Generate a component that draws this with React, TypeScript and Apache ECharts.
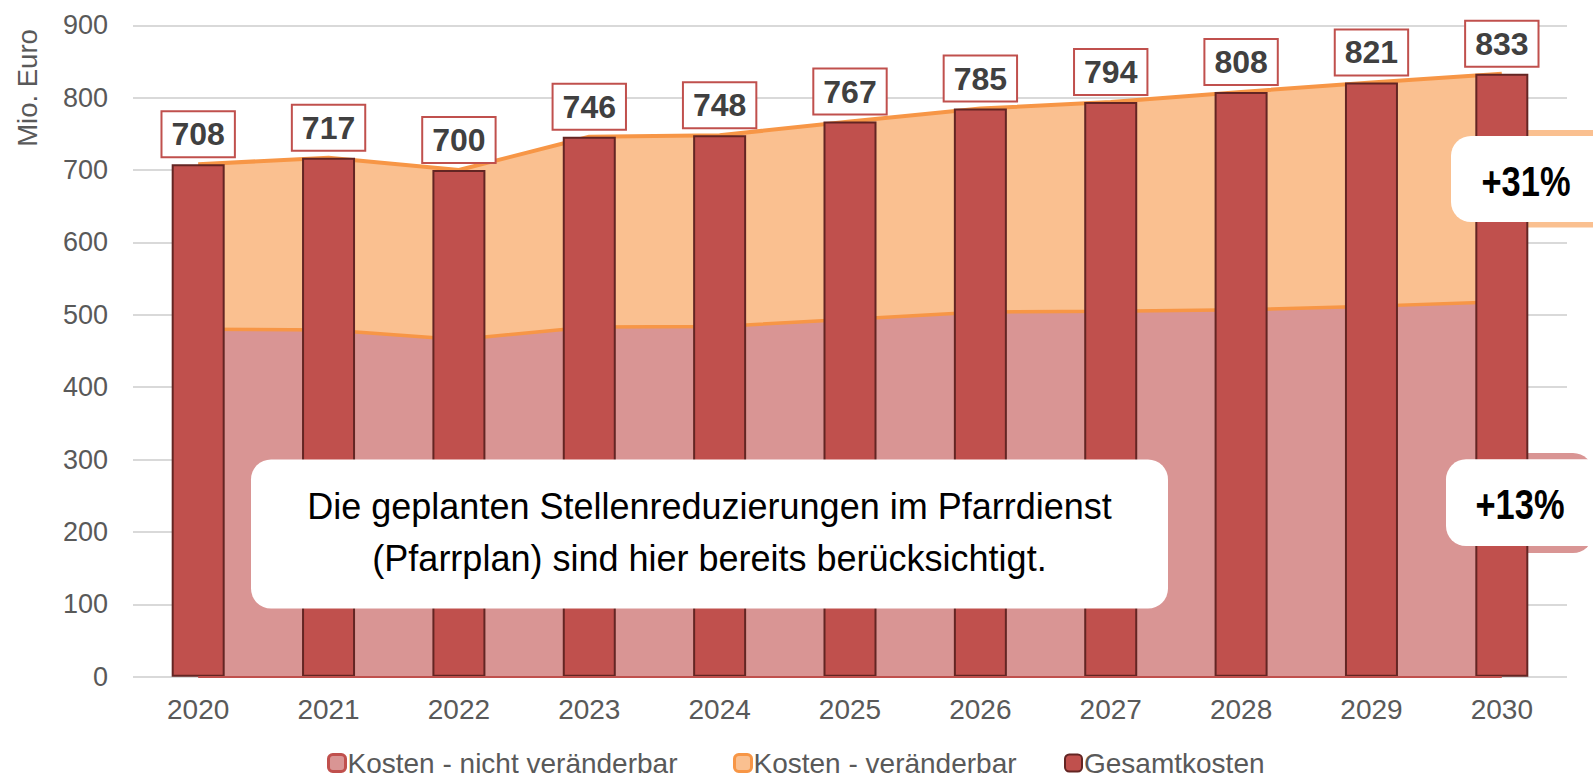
import React, { useEffect, useRef } from "react";
import * as echarts from "echarts";

const years = ["2020", "2021", "2022", "2023", "2024", "2025", "2026", "2027", "2028", "2029", "2030"];
const gesamtkosten = [708, 717, 700, 746, 748, 767, 785, 794, 808, 821, 833];
const nichtVeraenderbar = [480, 479, 466, 483, 484, 494, 504, 505, 507, 512, 518];
const veraenderbar = [228, 238, 234, 263, 264, 273, 281, 289, 301, 309, 315];
const seriesNames = ["Kosten - nicht veränderbar", "Kosten - veränderbar", "Gesamtkosten"];
const yMin = 0;
const yMax = 900;
const yStep = 100;
const axisTitle = "Mio. Euro";
const calloutText = "Die geplanten Stellenreduzierungen im Pfarrdienst\n(Pfarrplan) sind hier bereits berücksichtigt.";
const pctVeraenderbar = "+31%";
const pctNichtVeraenderbar = "+13%";

const FONT = "'Liberation Sans', Arial, Helvetica, sans-serif";

const legendStyles = [
  { color: "#D99594", borderColor: "#C0504D", borderWidth: 3 },
  { color: "#FAC090", borderColor: "#F79646", borderWidth: 3 },
  { color: "#C0504D", borderColor: "#632523", borderWidth: 2 },
];
const legendLefts = [327, 733, 1064];

export default function App() {
  const ref = useRef<HTMLDivElement>(null);

  useEffect(() => {
    if (!ref.current) return;
    const chart = echarts.init(ref.current, undefined, { renderer: "svg" });
    chart.setOption({
      animation: false,
      textStyle: { fontFamily: FONT },
      grid: { left: 133, right: 26, top: 25.3, bottom: 105.3, containLabel: false },
      legend: seriesNames.map((name, i) => ({
        top: 749,
        left: legendLefts[i],
        icon: "roundRect",
        itemWidth: 17,
        itemHeight: 17,
        padding: 0,
        textStyle: { fontSize: 28, lineHeight: 26, color: "#595959", fontFamily: FONT, padding: [0, 0, 0, -3] },
        data: [{ name, itemStyle: legendStyles[i] }],
      })),
      xAxis: {
        type: "category",
        data: years,
        boundaryGap: true,
        axisLine: { show: false },
        axisTick: { show: false },
        axisLabel: { color: "#595959", fontSize: 28, margin: 19, fontFamily: FONT },
      },
      yAxis: {
        type: "value",
        min: yMin,
        max: yMax,
        interval: yStep,
        axisLine: { show: false },
        axisTick: { show: false },
        axisLabel: { color: "#595959", fontSize: 27, margin: 25, fontFamily: FONT },
        splitLine: { lineStyle: { color: "#D9D9D9", width: 2 } },
      },
      series: [
        {
          name: seriesNames[0],
          type: "line",
          stack: "kosten",
          data: nichtVeraenderbar,
          symbol: "none",
          itemStyle: { color: "#D99594" },
          lineStyle: { color: "#F79646", width: 3.5 },
          areaStyle: { color: "#D99594", opacity: 1 },
          z: 2,
          markLine: {
            silent: true,
            symbol: "none",
            label: { show: false },
            lineStyle: { color: "#C0504D", width: 2, type: "solid" },
            data: [[{ coord: [years[0], yMin] }, { coord: [years[years.length - 1], yMin] }]],
          },
        },
        {
          name: seriesNames[1],
          type: "line",
          stack: "kosten",
          data: veraenderbar,
          symbol: "none",
          itemStyle: { color: "#FAC090" },
          lineStyle: { color: "#F79646", width: 4 },
          areaStyle: { color: "#FAC090", opacity: 1 },
          z: 2,
        },
        {
          name: seriesNames[2],
          type: "bar",
          data: gesamtkosten,
          barWidth: 53,
          itemStyle: { color: "#C0504D", borderColor: "#632523", borderWidth: 2 },
          z: 3,
          label: {
            show: true,
            position: "top",
            distance: 8,
            color: "#404040",
            fontSize: 32,
            fontWeight: "bold",
            fontFamily: FONT,
            lineHeight: 32,
            backgroundColor: "#FFFFFF",
            borderColor: "#C0504D",
            borderWidth: 2,
            padding: [6, 9, 6, 9],
          },
        },
      ],
      graphic: [
        {
          type: "text",
          x: 27,
          y: 88,
          rotation: Math.PI / 2,
          z: 5,
          style: { text: axisTitle, align: "center", verticalAlign: "middle", fontSize: 27.5, fontFamily: FONT, fill: "#595959" },
        },
        {
          type: "rect",
          z: 1,
          shape: { x: 1445, y: 130, width: 170, height: 97.5, r: 20 },
          style: { fill: "#FAC090" },
        },
        {
          type: "rect",
          z: 10,
          shape: { x: 1451, y: 136, width: 170, height: 86, r: 20 },
          style: { fill: "#FFFFFF" },
        },
        {
          type: "text",
          x: 1526,
          y: 181,
          scaleX: 0.82,
          z: 11,
          style: { text: pctVeraenderbar, align: "center", verticalAlign: "middle", fontSize: 42, fontWeight: "bold", fontFamily: FONT, fill: "#000000" },
        },
        {
          type: "rect",
          z: 1,
          shape: { x: 1440, y: 453, width: 153, height: 100, r: 20 },
          style: { fill: "#D99594" },
        },
        {
          type: "rect",
          z: 10,
          shape: { x: 1446, y: 459.3, width: 170, height: 86.7, r: 20 },
          style: { fill: "#FFFFFF" },
        },
        {
          type: "text",
          x: 1520,
          y: 504,
          scaleX: 0.82,
          z: 11,
          style: { text: pctNichtVeraenderbar, align: "center", verticalAlign: "middle", fontSize: 42, fontWeight: "bold", fontFamily: FONT, fill: "#000000" },
        },
        {
          type: "rect",
          z: 10,
          shape: { x: 251, y: 459.5, width: 917, height: 149, r: 20 },
          style: { fill: "#FFFFFF" },
        },
        {
          type: "text",
          x: 709.5,
          y: 532,
          z: 11,
          style: { text: calloutText, align: "center", verticalAlign: "middle", fontSize: 36, lineHeight: 52, fontFamily: FONT, fill: "#000000" },
        },
      ],
    });
    return () => chart.dispose();
  }, []);

  return <div ref={ref} style={{ position: "absolute", left: 0, top: 0, width: 1593, height: 782 }} />;
}
